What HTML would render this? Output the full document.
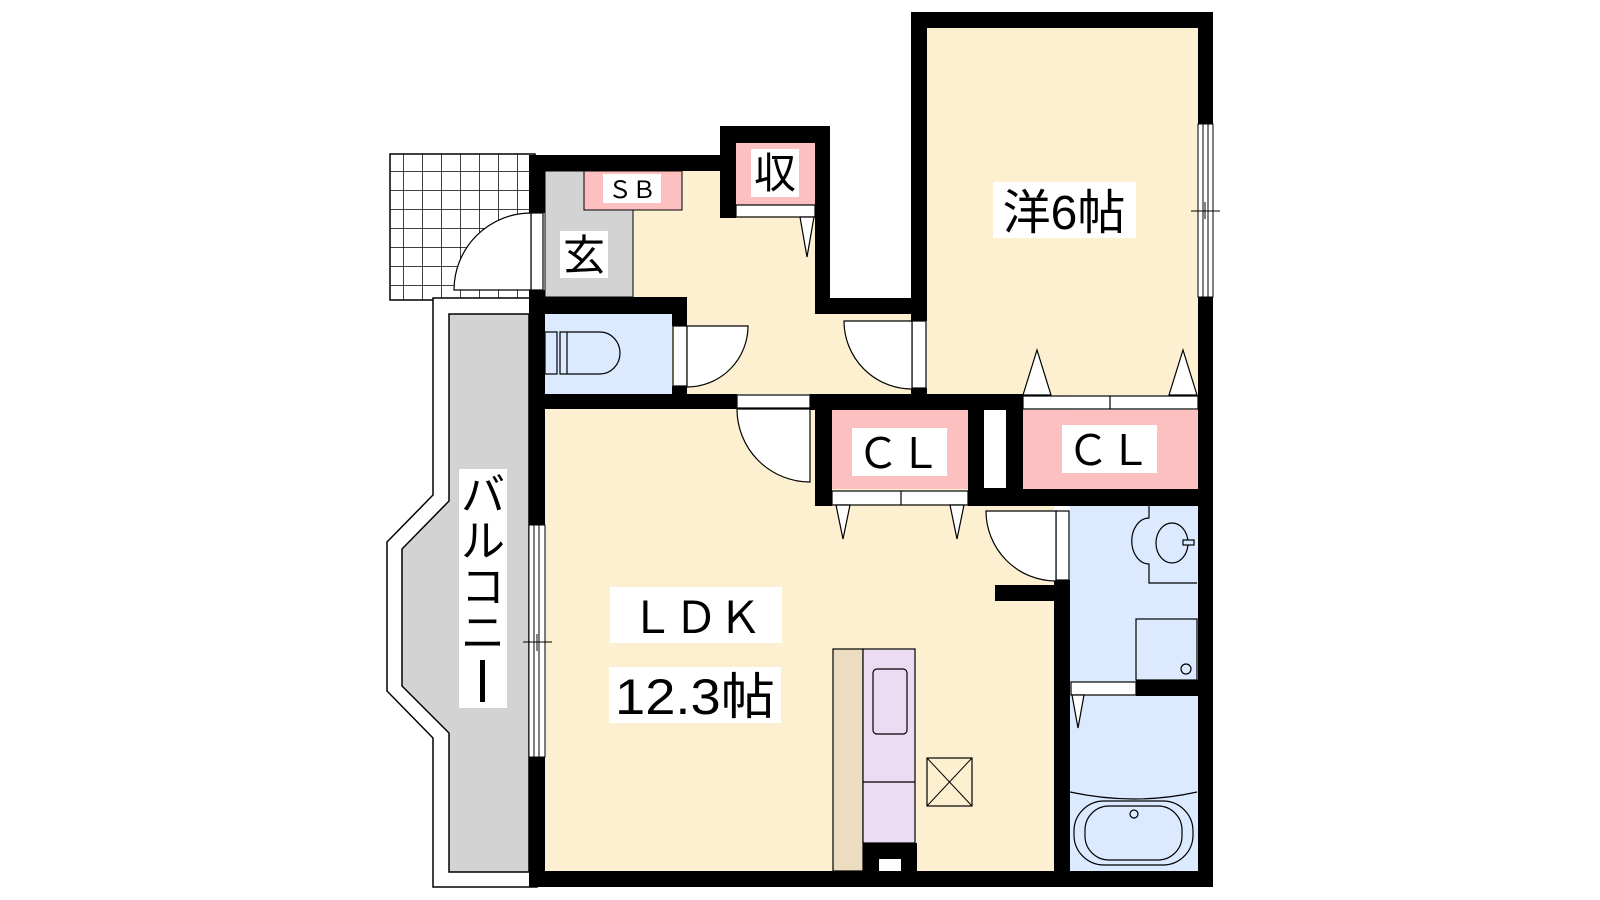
<!DOCTYPE html>
<html><head><meta charset="utf-8"><style>html,body{margin:0;padding:0;background:#fff}svg{display:block}
text{font-family:"Liberation Sans","Noto Sans CJK JP",sans-serif}</style></head><body>
<svg width="1600" height="900" viewBox="0 0 1600 900" xmlns="http://www.w3.org/2000/svg">
<defs><pattern id="tile" x="403" y="171" width="19" height="19" patternUnits="userSpaceOnUse"><path d="M0 0H19M0 0V19" stroke="#000" stroke-width="1.5" fill="none"/></pattern></defs>
<!-- tile -->
<rect x="390" y="154" width="145" height="146" fill="url(#tile)" stroke="#000" stroke-width="1.5"/>
<!-- balcony -->
<path d="M433 298 V495 L387 542 V691 L433 738 V887 H537 V298 Z" fill="#fff" stroke="#000" stroke-width="1.5"/>
<path d="M449 314 V501 L402 549 V686 L449 733 V872 H529 V314 Z" fill="#d3d3d3" stroke="#000" stroke-width="1.5"/>
<!-- floors -->
<rect x="545" y="171" width="270" height="223" fill="#fdf0d0"/>
<rect x="815" y="298" width="100" height="96" fill="#fdf0d0"/>
<rect x="927" y="28" width="271" height="367" fill="#fdf0d0"/>
<rect x="545" y="409" width="509" height="462" fill="#fdf0d0"/>
<rect x="1054" y="394" width="16" height="112" fill="#fdf0d0"/>
<rect x="545" y="171" width="88" height="126" fill="#d3d3d3" stroke="#000" stroke-width="1"/>
<rect x="584" y="171" width="98" height="39" fill="#fcc0c0" stroke="#000" stroke-width="1"/>
<rect x="545" y="314" width="127" height="80" fill="#dbeafe"/>
<rect x="1070" y="506" width="128" height="365" fill="#dbeafe"/>
<rect x="736" y="143" width="79" height="62" fill="#fcc0c0"/>
<rect x="832" y="410" width="136" height="79" fill="#fcc0c0"/>
<rect x="1023" y="410" width="175" height="79" fill="#fcc0c0"/>
<!-- walls -->
<g fill="#000">
<rect x="529" y="155" width="16" height="58"/>
<rect x="529" y="290" width="16" height="235"/>
<rect x="529" y="757" width="16" height="130"/>
<rect x="529" y="155" width="191" height="16"/>
<path d="M720 126 H830 V314 H927 V28 H911 V298 H830 V126 Z"/>
<rect x="720" y="126" width="110" height="17"/>
<rect x="720" y="126" width="16" height="92"/>
<rect x="815" y="126" width="15" height="188"/>
<rect x="815" y="298" width="112" height="16"/>
<rect x="911" y="12" width="16" height="309"/>
<rect x="911" y="12" width="302" height="16"/>
<rect x="1198" y="12" width="15" height="112"/>
<rect x="1198" y="297" width="15" height="590"/>
<rect x="529" y="297" width="158" height="17"/>
<rect x="672" y="297" width="15" height="29"/>
<rect x="672" y="386" width="15" height="23"/>
<rect x="529" y="394" width="208" height="15"/>
<rect x="810" y="394" width="213" height="16"/>
<rect x="815" y="394" width="17" height="112"/>
<rect x="815" y="489" width="17" height="17"/>
<rect x="968" y="394" width="55" height="112"/>
<rect x="968" y="489" width="245" height="17"/>
<rect x="911" y="388" width="16" height="8"/>
<rect x="1054" y="580" width="16" height="291"/>
<rect x="995" y="585" width="59" height="16"/>
<rect x="1136" y="680" width="62" height="16"/>
<rect x="529" y="871" width="684" height="16"/>
<rect x="863" y="843" width="54" height="28"/>
</g>
<rect x="984" y="410" width="22" height="78" fill="#fff"/>
<rect x="879" y="859" width="22" height="12" fill="#fff"/>
<!-- strips -->
<g fill="#fff" stroke="#000" stroke-width="1.2">
<rect x="736" y="205" width="79" height="12"/>
<rect x="832" y="491" width="136" height="14"/><line x1="901" y1="491" x2="901" y2="505"/>
<rect x="1023" y="396" width="175" height="13"/><line x1="1110" y1="396" x2="1110" y2="409"/>
<rect x="737" y="395" width="73" height="13"/>
<rect x="1071" y="682" width="65" height="13"/>
<rect x="531" y="213" width="12" height="77"/>
<rect x="673" y="326" width="14" height="60"/>
<rect x="912" y="321" width="14" height="67"/>
<rect x="1056" y="511" width="13" height="69"/>
<!-- triangles -->
<path d="M800 217 L814 217 L807 257 Z"/>
<path d="M836 505 L850 505 L843 539 Z"/><path d="M950 505 L964 505 L957 539 Z"/>
<path d="M1023 395 L1051 395 L1037 350 Z"/><path d="M1169 395 L1197 395 L1183 350 Z"/>
<path d="M1072 695 L1084 695 L1078 728 Z"/>
<!-- doors -->
<path d="M531 213 A77 77 0 0 0 454 290 H531 Z"/>
<path d="M687 326 H748 A61 61 0 0 1 687 387 Z"/>
<path d="M737 409 A73 73 0 0 0 810 482 V409 Z"/>
<path d="M912 321 H844 A68 68 0 0 0 912 389 Z"/>
<path d="M1056 511 H986 A70 70 0 0 0 1056 581 Z"/>
</g>
<!-- windows -->
<g stroke="#000" stroke-width="1" fill="#fff">
<rect x="1198" y="124" width="15" height="173"/><line x1="1203" y1="124" x2="1203" y2="297"/><line x1="1208" y1="124" x2="1208" y2="297"/>
<line x1="1191" y1="211" x2="1220" y2="211"/><line x1="1205" y1="202" x2="1205" y2="219"/>
<rect x="529" y="525" width="16" height="232"/><line x1="534" y1="525" x2="534" y2="757"/><line x1="539" y1="525" x2="539" y2="757"/>
<line x1="523" y1="642" x2="552" y2="642"/><line x1="537" y1="634" x2="537" y2="651"/>
</g>
<!-- toilet -->
<g fill="#dbeafe" stroke="#000" stroke-width="1.2">
<rect x="545" y="332" width="12" height="42"/>
<path d="M560 332 H600 A20 21 0 0 1 600 374 H560 Z"/>
<line x1="567" y1="332" x2="567" y2="374"/>
</g>
<!-- wash -->
<g fill="#dbeafe" stroke="#000" stroke-width="1.2">
<path d="M1149 506 V518 A15 20 0 0 0 1149 564 V583 H1197"/>
<ellipse cx="1172" cy="543" rx="16" ry="20"/>
<rect x="1183" y="540" width="11" height="5"/>
<rect x="1136" y="619" width="61" height="61"/>
<circle cx="1186" cy="669" r="5"/>
<path d="M1070 792 Q1135 806 1197 792"/>
<rect x="1074" y="801" width="119" height="64" rx="30"/>
<rect x="1085" y="806" width="97" height="54" rx="24"/>
<circle cx="1134" cy="814" r="4"/>
</g>
<!-- kitchen -->
<rect x="833" y="649" width="30" height="222" fill="#eddcc0" stroke="#000" stroke-width="1.2"/>
<rect x="863" y="649" width="52" height="194" fill="#ecdcf3" stroke="#000" stroke-width="1.2"/>
<rect x="873" y="669" width="34" height="65" rx="4" fill="#ecdcf3" stroke="#000" stroke-width="1.2"/>
<line x1="863" y1="782" x2="915" y2="782" stroke="#000" stroke-width="1.2"/>
<rect x="927" y="758" width="45" height="48" fill="none" stroke="#000" stroke-width="1.2"/>
<path d="M927 758 L972 806 M972 758 L927 806" stroke="#000" stroke-width="1"/>
<!-- labels -->
<g fill="#fff">
<rect x="603" y="174" width="58" height="29"/>
<rect x="751" y="149" width="48" height="48"/>
<rect x="560" y="231" width="48" height="47"/>
<rect x="993" y="182" width="143" height="56"/>
<rect x="852" y="428" width="95" height="48"/>
<rect x="1062" y="425" width="95" height="48"/>
<rect x="610" y="587" width="172" height="56"/>
<rect x="609" y="667" width="172" height="56"/>
<rect x="459" y="469" width="48" height="239"/>
</g>
<g fill="#000" text-anchor="middle">
<text x="632" y="198" font-size="24">ＳＢ</text>
<text x="775" y="188" font-size="42">収</text>
<text x="584" y="270" font-size="42">玄</text>
<text x="1064" y="229" font-size="48">洋6帖</text>
<text x="899" y="468" font-size="42">ＣＬ</text>
<text x="1109" y="465" font-size="42">ＣＬ</text>
<text x="696" y="633" font-size="44">ＬＤＫ</text>
<text x="695" y="714" font-size="50" textLength="160" lengthAdjust="spacingAndGlyphs">12.3帖</text>
<text x="483" y="510" font-size="44">バ</text>
<text x="483" y="556" font-size="44">ル</text>
<text x="483" y="602" font-size="44">コ</text>
<text x="483" y="648" font-size="44">ニ</text>
<rect x="480" y="660" width="5" height="42"/>
</g>
</svg>
</body></html>
